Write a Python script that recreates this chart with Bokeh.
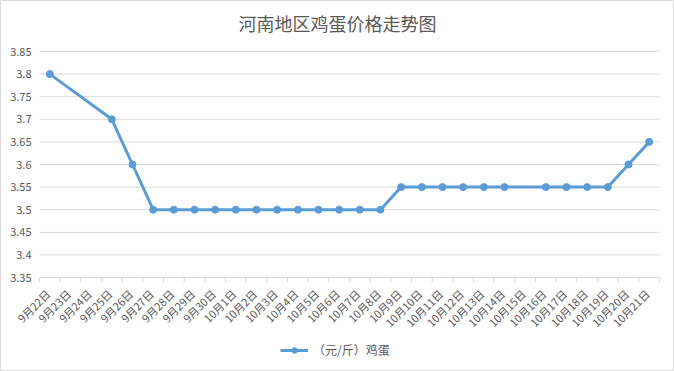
import math
from bokeh.plotting import figure
from bokeh.models import Range1d, Legend, LegendItem, ColumnDataSource
from bokeh.core.properties import value
from bokeh.embed import file_html
from bokeh.resources import INLINE

dates = ["9月22日", "9月23日", "9月24日", "9月25日", "9月26日", "9月27日", "9月28日", "9月29日",
         "9月30日", "10月1日", "10月2日", "10月3日", "10月4日", "10月5日", "10月6日", "10月7日",
         "10月8日", "10月9日", "10月10日", "10月11日", "10月12日", "10月13日", "10月14日",
         "10月15日", "10月16日", "10月17日", "10月18日", "10月19日", "10月20日", "10月21日"]
prices = [3.8, None, None, 3.7, 3.6, 3.5, 3.5, 3.5, 3.5, 3.5, 3.5, 3.5, 3.5, 3.5, 3.5, 3.5,
          3.5, 3.55, 3.55, 3.55, 3.55, 3.55, 3.55, None, 3.55, 3.55, 3.55, 3.55, 3.6, 3.65]
y_ticks = [3.35, 3.4, 3.45, 3.5, 3.55, 3.6, 3.65, 3.7, 3.75, 3.8, 3.85]
y_labels = ["3.35", "3.4", "3.45", "3.5", "3.55", "3.6", "3.65", "3.7", "3.75", "3.8", "3.85"]
series_name = "（元/斤）鸡蛋"
title_text = "河南地区鸡蛋价格走势图"

FONT = "Noto Sans CJK SC"
GRAY = "#595959"
BLUE = "#5b9bd5"
GRID = "#d9d9d9"

# layout in pixels: plot band 39..659 x 51..277 inside a 674 x 371 frame
W, H = 674, 371
LEFT_PX, BAND_W, TOP_PX, BAND_H = 39, 620, 51, 226
n = len(dates)
cw = BAND_W / n
span = y_ticks[-1] - y_ticks[0]
y_top = y_ticks[-1] + span * TOP_PX / BAND_H
y_bottom = y_ticks[0] - span * (H - TOP_PX - BAND_H) / BAND_H
x_left = -LEFT_PX / cw
x_right = n + (W - LEFT_PX - BAND_W) / cw

xs = [i + 0.5 for i, v in enumerate(prices) if v is not None]
ys = [v for v in prices if v is not None]
src = ColumnDataSource(dict(x=xs, y=ys))
lab_src = ColumnDataSource(dict(x=[i + 0.5 for i in range(n)], y=[y_ticks[0]] * n, t=dates))
tick_src = ColumnDataSource(dict(x=list(range(n + 1)), y=[y_ticks[0]] * (n + 1)))
grid_src = ColumnDataSource(dict(x0=[0] * len(y_ticks), x1=[n] * len(y_ticks), y=y_ticks,
                                 t=y_labels))

p = figure(frame_width=W, frame_height=H,
           output_backend="svg", toolbar_location=None,
           x_range=Range1d(x_left, x_right), y_range=Range1d(y_bottom, y_top),
           x_axis_location=None, y_axis_location=None, title_location=None,
           min_border_left=0, min_border_right=0, min_border_top=0, min_border_bottom=0)
p.outline_line_color = GRID
p.outline_line_width = 1
p.xgrid.grid_line_color = None
p.ygrid.grid_line_color = None

# horizontal gridlines and value labels
p.segment(x0="x0", y0="y", x1="x1", y1="y", source=grid_src, line_color=GRID, line_width=1)
p.text(x="x0", y="y", text="t", source=grid_src, text_align="right", text_baseline="middle",
       x_offset=-8, text_font=value(FONT), text_font_size="11px", text_color=GRAY)

# title
p.text(x=[n / 2], y=[y_top], text=[title_text], text_align="center", text_baseline="middle",
       x_offset=-12, y_offset=22, text_font=value(FONT), text_font_size="18px",
       text_color=GRAY)

# category axis: boundary ticks and rotated labels
p.ray(x="x", y="y", source=tick_src, length=5, length_units="screen", angle=-math.pi / 2,
      line_color=GRID, line_width=1)
p.text(x="x", y="y", text="t", source=lab_src, angle=math.pi / 4,
       text_align="right", text_baseline="middle", x_offset=-2, y_offset=14,
       text_font=value(FONT), text_font_size="11px", text_color=GRAY)

ln = p.line("x", "y", source=src, line_color=BLUE, line_width=3)
sc = p.scatter("x", "y", source=src, size=7, fill_color=BLUE, line_color=BLUE)

legend = Legend(items=[LegendItem(label=series_name, renderers=[ln, sc])],
                orientation="horizontal", location=(280, 13),
                label_text_font=FONT, label_text_font_size="12px", label_text_color=GRAY,
                glyph_width=28, glyph_height=14, label_height=14, label_standoff=5,
                border_line_color=None, background_fill_alpha=0,
                margin=0, padding=0)
p.add_layout(legend, "center")

open("out.html", "w").write(file_html(p, INLINE))
